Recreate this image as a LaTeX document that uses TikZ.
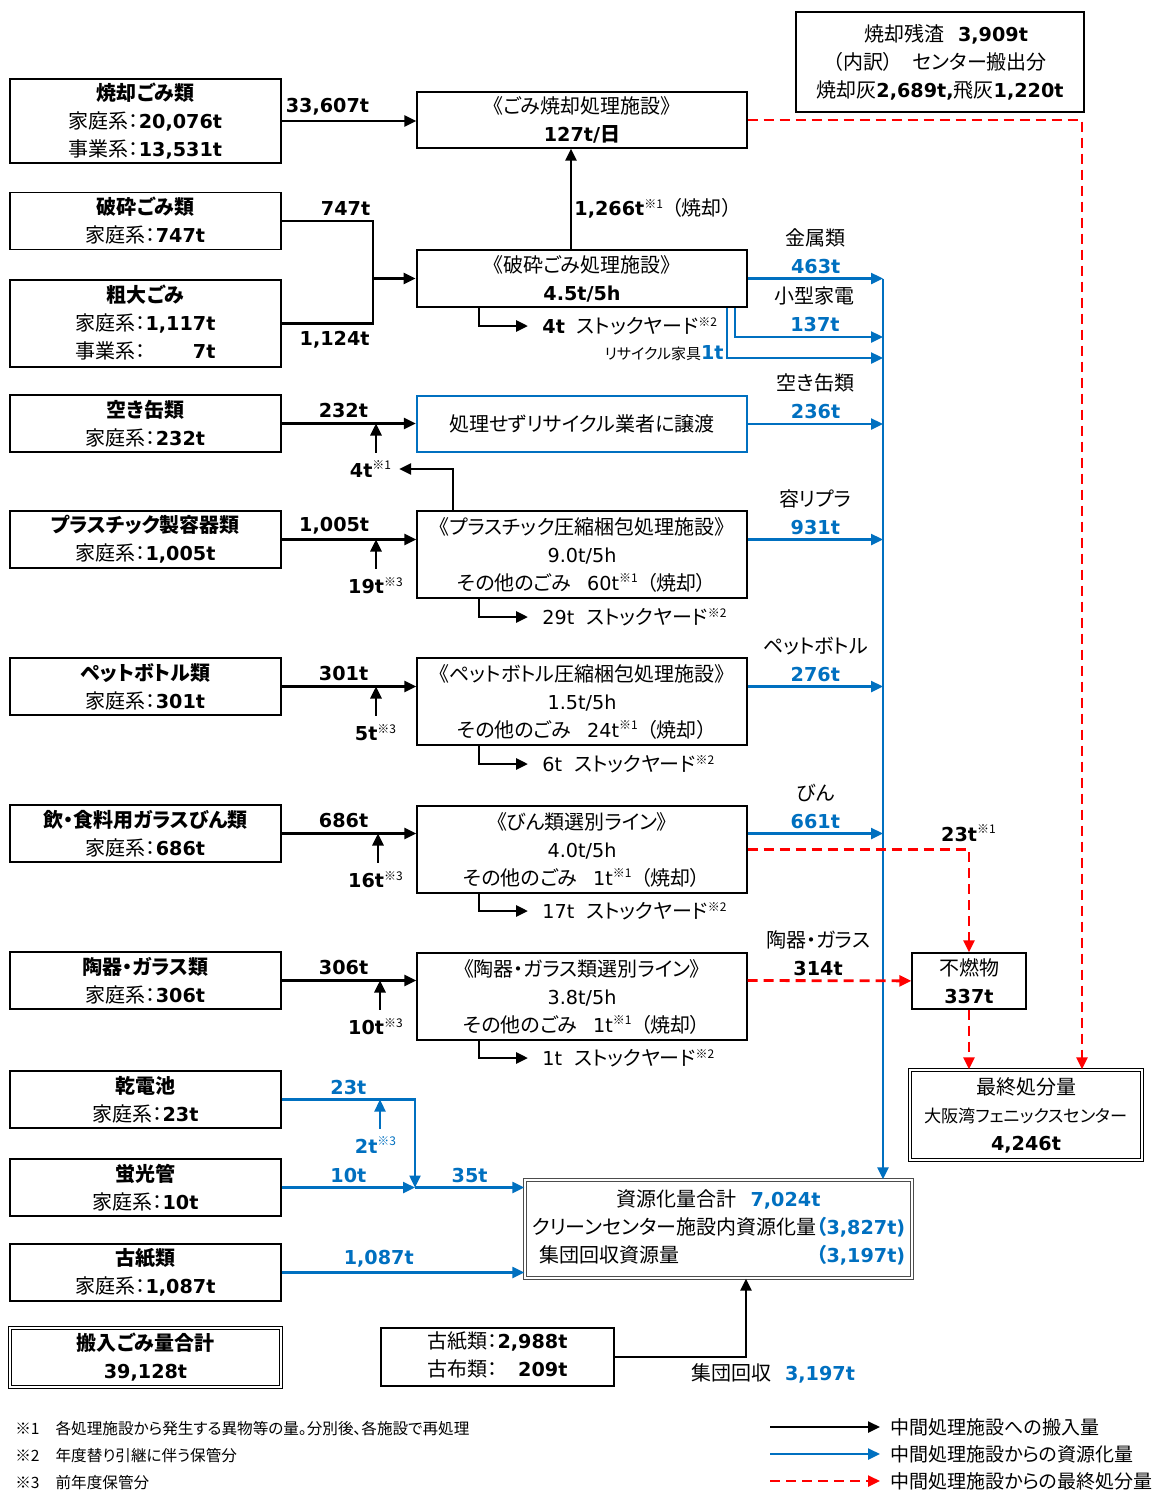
\documentclass[tikz,border=0pt]{standalone}
\usepackage{fontspec}
\setmainfont{Noto Sans CJK JP}[RawFeature=+palt]
\newfontfamily\numfont{DejaVu Sans}[Scale=0.96]
\usetikzlibrary{arrows.meta,positioning}

\definecolor{rblue}{RGB}{0,112,192}
\definecolor{rred}{RGB}{255,0,0}
\newcommand{\nb}[1]{{\numfont\bfseries #1}}
\newcommand{\nr}[1]{{\numfont #1}}
\newcommand{\bn}[1]{\textcolor{rblue}{\nb{#1}}}
\newcommand{\kome}[1]{\textsuperscript{\fontsize{6}{6}\selectfont ※#1}}

\begin{document}
\begin{tikzpicture}[x=0.5pt,y=-0.5pt,auto,font=\fontsize{10}{14}\selectfont,>={Triangle[length=6pt,width=5.5pt]}]
		\tikzstyle{box}=[draw,line width=0.7pt,align=center,inner sep=0pt]
		\tikzstyle{inbox}=[box,minimum width=135.5pt,minimum height=28.5pt]
		\tikzstyle{fac}=[box,minimum width=165pt,minimum height=43.5pt]
		\tikzstyle{inflow}=[->,line width=1.4pt]
		\tikzstyle{recyc}=[->,line width=1.2pt,rblue]
		\tikzstyle{disp}=[->,line width=1.4pt,rred,dash pattern=on 5pt off 3pt]
		\tikzstyle{stock}=[anchor=west,inner xsep=7pt,inner ysep=0pt]
		\tikzstyle{lbl}=[text=black,align=center]

		\fill[white] (0,0) rectangle (1160,1490);

		% incoming waste
		\node[inbox,minimum height=42pt] (Ls) at (145.5,121) {\textbf{焼却ごみ類}\\家庭系：\nb{20,076t}\\事業系：\nb{13,531t}};
		\node[inbox] (Lh) at (145.5,221) {\textbf{破砕ごみ類}\\家庭系：\nb{747t}};
		\node[inbox,minimum height=43.5pt] (Lb) at (145.5,323.5) {\textbf{粗大ごみ}\\家庭系：\nb{1,117t}\\事業系：\phantom{\nb{1,11}}\nb{7t}};
		\node[inbox] (Lc) at (145.5,423.5) {\textbf{空き缶類}\\家庭系：\nb{232t}};
		\node[inbox] (Lp) at (145.5,539.5) {\textbf{プラスチック製容器類}\\家庭系：\nb{1,005t}};
		\node[inbox] (Lt) at (145.5,686.5) {\textbf{ペットボトル類}\\家庭系：\nb{301t}};
		\node[inbox] (Lg) at (145.5,833.5) {\textbf{飲・食料用ガラスびん類}\\家庭系：\nb{686t}};
		\node[inbox] (Lk) at (145.5,980.5) {\textbf{陶器・ガラス類}\\家庭系：\nb{306t}};
		\node[inbox] (Ld) at (145.5,1099.5) {\textbf{乾電池}\\家庭系：\nb{23t}};
		\node[inbox] (Lf) at (145.5,1187.5) {\textbf{蛍光管}\\家庭系：\nb{10t}};
		\node[inbox] (Lo) at (145.5,1272.5) {\textbf{古紙類}\\家庭系：\nb{1,087t}};
		\node[inbox,double,double distance=1pt,minimum height=29.5pt] (Ltot) at (145.5,1357.5) {\textbf{搬入ごみ量合計}\\\nb{39,128t}};

		% facilities
		\node[fac,minimum height=28pt] (Ms) at (582,120) {《ごみ焼却処理施設》\\\nb{127t/}\textbf{日}};
		\node[fac,minimum height=28.5pt,line width=1.4pt] (Mh) at (582,278.5) {《破砕ごみ処理施設》\\\nb{4.5t/5h}};
		\node[fac,minimum height=28pt,draw=rblue,line width=1.2pt] (Mc) at (582,424) {処理せずリサイクル業者に譲渡};
		\node[fac] (Mp) at (582,554.5) {《プラスチック圧縮梱包処理施設》\\\nr{9.0t/5h}\\その他のごみ\hspace{8pt}\nr{60t}\kome1\hspace{4pt}（焼却）};
		\node[fac] (Mt) at (582,701.5) {《ペットボトル圧縮梱包処理施設》\\\nr{1.5t/5h}\\その他のごみ\hspace{8pt}\nr{24t}\kome1\hspace{4pt}（焼却）};
		\node[fac] (Mg) at (582,849.5) {《びん類選別ライン》\\\nr{4.0t/5h}\\その他のごみ\hspace{8pt}\nr{1t}\kome1\hspace{4pt}（焼却）};
		\node[fac] (Mk) at (582,996.5) {《陶器・ガラス類選別ライン》\\\nr{3.8t/5h}\\その他のごみ\hspace{8pt}\nr{1t}\kome1\hspace{4pt}（焼却）};

		% outputs
		\node[box,minimum width=144pt,minimum height=50pt] (Rz) at (940,62) {\hspace{6pt}焼却残渣\hspace{7pt}\nb{3,909t}\\（内訳）\hspace{10pt}センター搬出分\hspace{20pt}\\焼却灰\nb{2,689t,}飛灰\nb{1,220t}};
		\node[box,minimum width=57pt,minimum height=28pt] (Fn) at (969,981) {不燃物\\\nb{337t}};
		\node[box,double,double distance=1pt,minimum width=116pt,minimum height=45pt] (Ef) at (1026,1115) {最終処分量\\{\fontsize{8.6}{14}\selectfont 大阪湾フェニックスセンター}\\\nb{4,246t}};
		\node[box,double,double distance=1pt,draw=black!70,minimum width=193.5pt,minimum height=49pt] (Sr) at (718.5,1229) {\begin{tabular}{@{}l@{}r@{}}
			\multicolumn{2}{c}{資源化量合計\hspace{7pt}\bn{7,024t}}\\
			クリーンセンター施設内資源化量&\textcolor{rblue}{\textbf{（}\nb{3,827t)}}\\
			\hspace{4pt}集団回収資源量&\textcolor{rblue}{\textbf{（}\nb{3,197t)}}
		\end{tabular}};
		\node[box,minimum width=116.5pt,minimum height=29pt] (Kc) at (497.5,1357) {\begin{tabular}{@{}l@{}r@{}}古紙類：&\nb{2,988t}\\古布類：&\nb{209t}\end{tabular}};

		% helper points
		\coordinate (jh) at (373,278.5);
		\coordinate (trk) at (883,278.5);
		\coordinate (b2) at (883,337);
		\coordinate (b3) at (883,358);
		\coordinate (jd) at (415,1187.5);
		\coordinate (uc) at (376,0);
		\coordinate (up) at (376,0);
		\coordinate (ut) at (376,0);
		\coordinate (ug) at (378,0);
		\coordinate (uk) at (380,0);
		\coordinate (ud) at (380,0);

		% incineration
		\path (Ls) edge[inflow] node[pos=.34,inner sep=2pt] {\nb{33,607t}} (Ls -| Ms.west);
		\draw[disp] (Ms.east) -| ([xshift=28pt]Ef.north);

		% crushing
		\draw[line width=1.4pt] (Lh.east) -- node[pos=.7,inner sep=2pt] {\nb{747t}} (Lh.east -| jh) -- (jh |- Lb.east) -- node[pos=.42] {\nb{1,124t}} (Lb.east);
		\path (jh) edge[inflow] (Mh);
		\path ([xshift=-5.5pt]Mh.north) edge[inflow] node[right,pos=.4,inner xsep=1pt] {\nb{1,266t}\kome1\hspace{4pt}（焼却）} ([xshift=-5.5pt]Ms.south);
		\node[stock] (sh) at (528,326) {\nb{4t}\hspace{6pt}ストックヤード\kome2};
		\draw[inflow] ([xshift=-51.5pt]Mh.south) |- (sh.west);
		\path (Mh) edge[recyc] node[lbl,inner sep=2pt] {金属類\\\bn{463t}} (trk);
		\draw[recyc] ([xshift=76.5pt]Mh.south) |- node[lbl,pos=.77,inner sep=2pt] {小型家電\\\bn{137t}} (b2);
		\draw[recyc] ([xshift=72.5pt]Mh.south) |- (b3);
		\node[anchor=east,inner sep=1pt] (nf) at (726,353) {\fontsize{7.5}{9}\selectfont リサイクル家具\fontsize{10}{12}\selectfont\bn{1t}};
		\draw[recyc] (trk) -- (trk |- Sr.north);

		% cans
		\path (Lc) edge[inflow] node[pos=.46,inner sep=2pt] {\nb{232t}} (Lc -| Mc.west);
		\node (nc) at (371,469) {\nb{4t}\kome1};
		\draw[inflow] (Lc.south -| uc) -- (Lc.east -| uc);
		\path (Mc) edge[recyc] node[lbl,inner sep=2pt] {空き缶類\\\bn{236t}} (Mc -| trk);

		% plastics
		\path (Lp) edge[inflow] node[pos=.39,inner sep=2pt] {\nb{1,005t}} (Lp -| Mp.west);
		\node (np) at (376,586) {\nb{19t}\kome3};
		\draw[inflow] (Lp.south -| up) -- (Lp.east -| up);
		\draw[inflow] ([xshift=-64.5pt]Mp.north) |- (nc);
		\path (Lp -| Mp.east) edge[recyc] node[lbl,inner sep=2pt] {容リプラ\\\bn{931t}} (Lp -| trk);
		\node[stock] (sp) at (528,617) {\nr{29t}\hspace{6pt}ストックヤード\kome2};
		\draw[inflow] ([xshift=-51.5pt]Mp.south) |- (sp.west);

		% PET bottles
		\path (Lt) edge[inflow] node[pos=.46,inner sep=2pt] {\nb{301t}} (Lt -| Mt.west);
		\node (nt) at (376,733) {\nb{5t}\kome3};
		\draw[inflow] (Lt.south -| ut) -- (Lt.east -| ut);
		\path (Lt -| Mt.east) edge[recyc] node[lbl,inner sep=2pt] {ペットボトル\\\bn{276t}} (Lt -| trk);
		\node[stock] (st) at (528,764) {\nr{6t}\hspace{6pt}ストックヤード\kome2};
		\draw[inflow] ([xshift=-51.5pt]Mt.south) |- (st.west);

		% glass bottles
		\path (Lg) edge[inflow] node[pos=.46,inner sep=2pt] {\nb{686t}} (Lg -| Mg.west);
		\node (ng) at (376,880) {\nb{16t}\kome3};
		\draw[inflow] (Lg.south -| ug) -- (Lg.east -| ug);
		\path (Lg -| Mg.east) edge[recyc] node[lbl,inner sep=2pt] {びん\\\bn{661t}} (Lg -| trk);
		\draw[disp] (Mg.east) -| node[pos=.5,above,text=black] {\nb{23t}\kome1} (Fn.north);
		\node[stock] (sg) at (528,911) {\nr{17t}\hspace{6pt}ストックヤード\kome2};
		\draw[inflow] ([xshift=-51.5pt]Mg.south) |- (sg.west);

		% ceramics and glass
		\path (Lk) edge[inflow] node[pos=.46,inner sep=2pt] {\nb{306t}} (Lk -| Mk.west);
		\node (nk) at (376,1027) {\nb{10t}\kome3};
		\draw[inflow] (Lk.south -| uk) -- (Lk.east -| uk);
		\path (Lk -| Mk.east) edge[disp] node[lbl,pos=.43,inner sep=2pt] {陶器・ガラス\\\nb{314t}} (Fn);
		\node[stock] (sk) at (528,1058) {\nr{1t}\hspace{6pt}ストックヤード\kome2};
		\draw[inflow] ([xshift=-51.5pt]Mk.south) |- (sk.west);
		\draw[disp] (Fn.south) -- (Fn.south |- Ef.north);

		% batteries, lamps, paper
		\draw[recyc] (Ld.east) -- node[pos=.5,inner sep=2pt] {\nb{23t}} (Ld.east -| jd) -- (jd);
		\node[rblue] (nd) at (376,1145) {\nb{2t}\kome3};
		\draw[recyc] (Ld.south -| ud) -- (Ld.east -| ud);
		\path (Lf) edge[recyc] node[inner sep=2pt] {\nb{10t}} (jd);
		\path (jd) edge[recyc] node[inner sep=2pt] {\nb{35t}} (jd -| Sr.west);
		\path (Lo) edge[recyc] node[pos=.4,inner sep=2pt] {\nb{1,087t}} (Lo -| Sr.west);

		% group collection
		\draw[inflow] (Kc.east) -| ([xshift=13.75pt]Sr.south);
		\node[anchor=west] (ng2) at (684,1373) {集団回収\hspace{7pt}\bn{3,197t}};

		% notes
		\node[anchor=north west,align=left,inner sep=0pt,font=\fontsize{7.8}{13.5}\selectfont] (notes) at (15,1421) {※1\hspace{8pt}各処理施設から発生する異物等の量。分別後、各施設で再処理\\※2\hspace{8pt}年度替り引継に伴う保管分\\※3\hspace{8pt}前年度保管分};

		% legend
		\node[anchor=west,inner sep=0pt,font=\fontsize{9.5}{12}\selectfont] (lg1) at (890,1427) {中間処理施設への搬入量};
		\node[anchor=west,inner sep=0pt,font=\fontsize{9.5}{12}\selectfont] (lg2) at (890,1454) {中間処理施設からの資源化量};
		\node[anchor=west,inner sep=0pt,font=\fontsize{9.5}{12}\selectfont] (lg3) at (890,1481) {中間処理施設からの最終処分量};
		\coordinate (k1) at (770,1427);
		\coordinate (k2) at (770,1454);
		\coordinate (k3) at (770,1481);
		\draw[inflow,line width=1.2pt] (k1) -- ([xshift=-5pt]lg1.west);
		\draw[recyc] (k2) -- ([xshift=-5pt]lg2.west);
		\draw[disp,line width=1.2pt] (k3) -- ([xshift=-5pt]lg3.west);
	\end{tikzpicture}
\end{document}
